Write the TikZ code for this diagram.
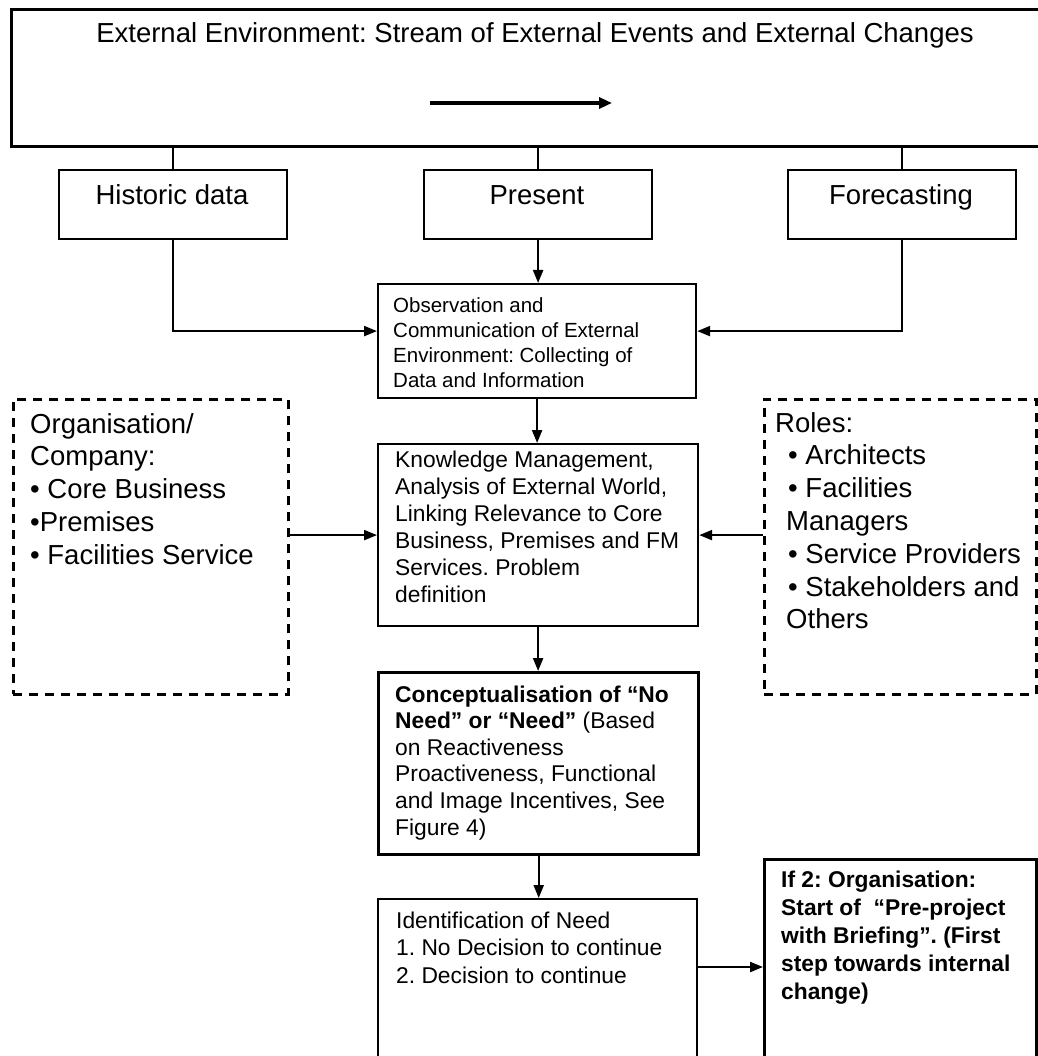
\documentclass[tikz,border=0pt]{standalone}
\usepackage{fontspec}
\setmainfont{Liberation Sans}
\usetikzlibrary{arrows.meta}

% type sizes (size / baseline skip, in pt)
\newcommand\fsbig{\fontsize{27.5}{32.8}\selectfont}
\newcommand\fsbody{\fontsize{22.8}{27}\selectfont}
\newcommand\fssmall{\fontsize{20.5}{25}\selectfont}

\begin{document}
\frenchspacing
\begin{tikzpicture}[x=1pt,y=-1pt,
  frame/.style={draw, line width=2.2pt, inner sep=0pt, anchor=north west},
  heavy/.style={frame, line width=3.4pt},
  dashbox/.style={frame, line width=2.6pt, dash pattern=on 9pt off 7pt},
  link/.style={line width=2.2pt},
  flow/.style={link, -{Triangle[length=13pt,width=10pt]}},
  txt/.style={anchor=base west, inner sep=0pt},
  ctr/.style={anchor=base, inner sep=0pt, font=\fsbig},
]
\useasboundingbox[fill=white] (0,0) rectangle (1037,1056);

% ---- external environment band (runs off the right edge)
\node[frame, line width=2.8pt, minimum width=1045pt, minimum height=137pt] (top) at (10,8) {};
\node[ctr] (toptext) at (535,43) {External Environment: Stream of External Events and External Changes};
\coordinate (streamA) at (430,103);
\coordinate (streamB) at (612,103);
\draw[line width=3.4pt, -{Triangle[length=13pt,width=11pt]}] (streamA) -- (streamB);

% ---- three time views
\node[frame, minimum width=228pt, minimum height=69pt] (hist) at (58,169) {};
\node[frame, minimum width=228pt, minimum height=69pt] (pres) at (423,169) {};
\node[frame, minimum width=228pt, minimum height=69pt] (fore) at (787,169) {};
\node[ctr] (histtext) at (172,205) {Historic data};
\node[ctr] (prestext) at (537,205) {Present};
\node[ctr] (foretext) at (901,205) {Forecasting};

\draw[link] (top.south -| hist.north) -- (hist.north);
\draw[link] (top.south -| pres.north) -- (pres.north);
\draw[link] (top.south -| fore.north) -- (fore.north);

% ---- central chain
\node[frame, minimum width=318pt, minimum height=114pt] (obs) at (377,283) {};
\node[txt] (obstext) at (393,312) {\parbox[t]{300pt}{\fssmall
  Observation and\\Communication of External\\Environment: Collecting of\\Data and Information}};

\node[frame, minimum width=320pt, minimum height=182pt] (know) at (377,443) {};
\node[txt] (knowtext) at (395,467) {\parbox[t]{300pt}{\fsbody
  Knowledge Management,\\Analysis of External World,\\Linking Relevance to Core\\Business, Premises and FM\\Services. Problem\\definition}};

\node[heavy, minimum width=320pt, minimum height=182pt] (concept) at (377,671) {};
\node[txt] (concepttext) at (395,702) {\parbox[t]{300pt}{\fontsize{22.8}{26.6}\selectfont
  \textbf{Conceptualisation of “No}\\\textbf{Need” or “Need”} (Based\\on Reactiveness\\Proactiveness, Functional\\and Image Incentives, See\\Figure 4)}};

\node[frame, minimum width=319pt, minimum height=170pt] (ident) at (377,898) {};
\node[txt] (identtext) at (396,928) {\parbox[t]{300pt}{\fontsize{22.8}{27.5}\selectfont
  Identification of Need\\1. No Decision to continue\\2. Decision to continue}};

\node[heavy, minimum width=272pt, minimum height=210pt] (ifbox) at (763,858) {};
\node[txt] (iftext) at (781,887) {\parbox[t]{250pt}{\fontsize{22.8}{28.2}\selectfont\bfseries
  If 2: Organisation:\\Start of~ “Pre-project\\with Briefing”. (First\\step towards internal\\change)}};

% ---- side panels
\node[dashbox, minimum width=275pt, minimum height=295pt] (org) at (12,398) {};
\node[txt] (orgtext) at (30,433) {\parbox[t]{255pt}{\fsbig
  Organisation/\\Company:\\• Core Business\\•Premises\\• Facilities Service}};

\node[dashbox, minimum width=272pt, minimum height=295pt] (roles) at (763,398) {};
\node[txt] (rolestext) at (775,432) {\parbox[t]{255pt}{\fsbig
  Roles:\\\hspace*{13pt}• Architects\\\hspace*{13pt}• Facilities\\\hspace*{11pt}Managers\\\hspace*{13pt}• Service Providers\\\hspace*{13pt}• Stakeholders and\\\hspace*{11pt}Others}};

% ---- connectors
\draw[flow] (pres.south) -- (obs.north -| pres.south);
\draw[flow] (hist.south) |- ([yshift=10pt]obs.west);
\draw[flow] (fore.south) |- ([yshift=10pt]obs.east);
\draw[flow] (obs.south) -- (obs.south |- know.north);
\draw[flow] (org.east |- know.west) -- (know.west);
\draw[flow] (roles.west |- know.east) -- (know.east);
\draw[flow] (know.south) -- (know.south |- concept.north);
\draw[flow] (concept.south) -- (concept.south |- ident.north);
\path (ident.north east) ++(0,69) coordinate (idout);
\draw[flow] (idout) -- (idout -| ifbox.west);
\end{tikzpicture}
\end{document}
